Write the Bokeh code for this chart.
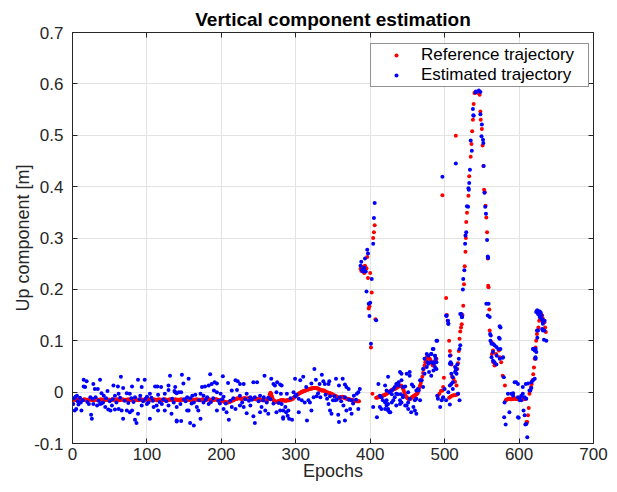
from bokeh.plotting import figure
from bokeh.models import LinearAxis, FixedTicker, Legend, LegendItem
from bokeh.embed import file_html
from bokeh.resources import INLINE

# ---------------- data (values in millimetres) ----------------
# Reference trajectory, one value per epoch for epochs 0..385
ref_flat_mm = [
    -15,-15,-14,-15,-15,-15,-16,-15,-15,-14,-15,-15,-15,-16,-15,-15,-14,-15,-15,-15,
    -15,-16,-15,-15,-14,-15,-15,-15,-16,-15,-15,-14,-15,-15,-15,-15,-16,-15,-14,-15,
    -15,-15,-15,-16,-15,-15,-14,-15,-15,-15,-15,-16,-15,-15,-14,-15,-15,-15,-15,-15,
    -14,-15,-15,-16,-15,-15,-15,-14,-15,-15,-15,-15,-16,-15,-15,-14,-15,-15,-15,-15,
    -15,-16,-15,-15,-14,-15,-15,-15,-15,-16,-15,-15,-14,-15,-15,-15,-16,-15,-15,-14,
    -15,-15,-14,-15,-15,-15,-16,-15,-15,-14,-15,-15,-15,-16,-15,-15,-14,-15,-15,-15,
    -15,-16,-15,-15,-14,-15,-15,-15,-16,-15,-15,-14,-15,-15,-15,-15,-16,-15,-14,-15,
    -15,-15,-15,-16,-15,-15,-14,-15,-15,-15,-15,-16,-15,-15,-14,-15,-15,-15,-15,-15,
    -14,-15,-15,-16,-15,-15,-15,-14,-15,-15,-15,-15,-16,-15,-15,-14,-15,-15,-15,-15,
    -15,-14,-14,-14,-15,-15,-15,-16,-16,-15,-15,-15,-14,-14,-15,-15,-16,-16,-16,-16,
    -17,-17,-18,-18,-19,-19,-20,-20,-20,-20,-19,-19,-18,-18,-17,-16,-16,-15,-14,-14,
    -13,-13,-12,-12,-12,-12,-13,-13,-13,-13,-12,-12,-12,-13,-13,-13,-12,-12,-12,-13,
    -13,-13,-13,-13,-13,-14,-14,-14,-13,-13,-14,-14,-15,-15,-15,-16,-16,-16,-16,-16,
    -16,-16,-15,-14,-10,-4,-1,-3,-8,-13,-16,-17,-18,-19,-19,-19,-18,-18,-17,-17,
    -16,-16,-16,-16,-16,-17,-17,-17,-16,-16,-16,-16,-15,-15,-14,-14,-13,-11,-10,-9,
    -7,-6,-5,-4,-3,-2,-1,0,0,1,1,2,2,3,4,4,5,5,6,6,
    7,7,7,8,8,8,8,8,8,7,7,6,5,4,4,3,3,3,3,2,
    1,0,0,-1,-1,-2,-2,-3,-3,-4,-5,-6,-7,-7,-8,-9,-10,-11,-12,-12,
    -11,-10,-9,-9,-10,-11,-12,-12,-13,-13,-13,-14,-14,-15,-15,-16,-16,-16,-17,-17,
    -17,-17,-18,-18,-18,-18,
]

# Reference trajectory after epoch 385: (epoch, mm)
ref_spike = [
    (387,240),(388,236),(389,244),(390,238),(391,244),(392,232),(393,246),(394,240),
    (395,241),(396,263),(397,222),(398,163),(399,167),(400,232),(401,87),(402,194),
    (403,-3),(404,300),(405,311),(406,325),(407,142),
]
ref_mid = [
    (408,-11),(409,-11),(410,-10),(411,-10),(412,-9),(413,-9),(414,-8),(415,-8),(416,-7),
    (417,-7),(418,-6),(419,-6),(420,-5),(421,-4),(422,-3),(423,-2),(424,-1),(425,0),
    (426,1),(427,2),(428,3),(429,4),(430,5),(431,5),(432,6),(433,6),(434,7),(435,8),
    (436,9),(437,10),(438,11),(439,12),(440,13),(441,13),(442,12),(443,10),(444,7),
    (445,3),(446,-1),(447,-5),(448,-8),(449,-10),(450,-12),(451,-13),(452,-14),(453,-14),
    (454,-13),(455,-12),(456,-10),(457,-9),(458,-8),(459,-7),(460,-6),(461,-5),(462,-4),
    (463,-3),(464,-1),(465,3),(466,8),(467,13),(468,18),(469,23),(470,30),(471,37),
    (472,45),(473,52),(474,58),(475,63),(476,68),(477,69),(478,68),(479,66),(480,65),
    (481,62),(482,58),(483,55),(484,52),(485,53),(486,56),(487,60),(488,63),(489,65),
]
ref_peak = [
    (491,-7),(493,-3),(495,2),(497,3),(498,10),(499,28),(497,383),(502,183),(503,150),
    (504,139),(506,100),(507,80),(508,72),(509,54),(510,30),(512,26),(514,20),(516,13),
    (506,-11),(508,-9),(510,-7),(512,-6),(514,-6),(516,-5),(518,-3),(517,45),(518,56),
    (519,80),(520,104),(521,118),(522,126),(523,132),(524,150),(525,168),(526,210),
    (527,245),(528,273),(528.5,300),(529,331),(530,349),(532,382),(533,420),(535,458),
    (536,483),(537,508),(538,530),(539,561),(540,582),(515,499),(541,583),(543,584),
    (545,582),(547,579),(548,546),(548.5,530),(550,512),(551,480),(552,440),(553,394),
    (554,389),(555,363),(556,340),(557,311),(558,260),(558.5,207),(559,204),(560,161),
    (560.5,120),(563,97),(565,81),(563.5,74),(565.5,58),(567,52),(569,74),(573,81),
    (574,68),(576,58),(578,32),(581,13),
]
ref_tail = [
    (582,-16),(583,-15),(584,-14),(585,-14),(586,-13),(587,-13),(588,-14),(589,-13),
    (590,-14),(591,-13),(592,-13),(593,-13),(594,-12),(595,-13),(596,-13),(597,-13),
    (598,-14),(599,-13),(600,-13),(601,-13),(602,-12),(603,-13),(604,-13),(605,-13),
    (606,-14),(607,-13),(608,-13),(609,-13),(610,-58),(611,-58),(612,-45),(613,-31),
    (614,-3),(615,3),(616,10),(617,16),(618,23),(619,35),(620,48),(621,65),(622,87),
    (623,100),(624,113),(625,120),(626,126),(627,139),(628,146),(629,152),(630,150),
    (631,149),(632,143),(633,140),(634,136),(635,126),(636,117),
]

# Estimated trajectory: (epoch, mm)
est_a = [
    (1,-23),(2,-12),(3,-36),(4,-9),(5,-33),(6,-7),(7,-18),(8,-24),(10,-11),(11,-20),(12,-36),
    (14,-16),(15,24),(15,11),(17,10),(19,21),(20,-19),(22,-23),(24,-10),(25,-44),(26,-52),
    (27,-13),(28,16),(28,-23),(30,6),(31,-10),(33,-26),(34,6),(35,-17),(37,24),(37,-23),
    (39,-2),(39,-22),(41,-20),(42,-7),(44,-29),(45,-12),(47,2),(48,-34),(50,-18),(51,-36),
    (53,-26),(54,-14),(55,13),(57,-7),(57,-34),(59,-20),(61,11),(62,-3),(62,-33),(64,-11),
    (65,30),(66,-36),(68,8),(68,-52),(70,-17),(73,-2),(73,-36),(75,-21),(77,-3),(77,-39),
    (79,-12),(80,11),(80,-36),(82,-19),(84,-10),(84,-54),(86,-60),(88,24),(88,-42),(90,-14),
    (91,-7),(93,10),(93,-26),(95,-18),(97,24),(98,-13),(100,-9),(100,-23),(102,-20),(104,-3),
    (104,-52),(106,-11),(108,-17),(109,-29),(111,11),(113,-26),(114,11),(115,-5),(115,-36),
    (117,-19),(119,10),(120,-23),(122,-14),(124,-3),(124,-36),(126,-18),(129,13),(129,4),
    (129,-26),(131,32),(133,-42),(134,-13),(136,-20),(137,2),(138,10),(140,-2),(140,-55),
]
est_b = [
    (147,34),(156,26),(185,35),(202,31),(258,32),(267,26),(149,17),(174,10),(178,11),(183,13),
    (187,16),(191,19),(194,17),(209,18),(219,23),(222,21),(225,16),(230,16),(243,19),(248,19),
    (270,16),(272,13),(275,19),(279,15),(138,0),(143,0),(146,0),(154,-10),(161,-7),(165,-5),
    (172,-3),(176,-7),(181,-10),(190,3),(194,0),(199,-3),(203,-9),(214,3),(221,4),(225,-7),
    (234,-3),(239,-10),(245,-10),(252,-7),(257,-10),(263,-11),(274,0),(280,-3),
    (140,-29),(145,-23),(154,-36),(156,-36),(160,-22),(167,-29),(169,-36),(176,-20),(183,-23),
    (194,-36),(198,-22),(203,-33),(207,-39),(210,-54),(214,-29),(219,-33),(225,-26),(230,-29),
    (234,-41),(239,-26),(243,-47),(245,-60),(252,-39),(254,-29),(259,-36),(263,-42),(270,-22),
    (274,-39),(279,-36),(283,-36),(283,-49),(140,-57),(146,-56),(158,-60),(163,-65),(172,-52),
    (150,-14),(152,-18),(158,-12),(163,-20),(170,-16),(179,-15),(186,-19),(189,-12),(196,-17),
    (201,-14),(206,-22),(212,-17),(216,-12),(228,-20),(232,-14),(237,-17),(241,-15),(250,-18),
    (256,-16),(261,-20),(266,-14),(277,-21),
]
est_c = [
    (281,13),(299,26),(306,23),(310,30),(314,10),(321,17),(325,45),(327,24),(332,16),(335,34),
    (337,21),(339,16),(344,16),(345,21),(354,26),(358,13),(363,26),(366,15),(368,10),(371,6),
    (378,-7),(384,0),(386,6),(382,-3),(288,-3),(297,0),(299,-8),(304,-13),(308,-16),(312,-20),
    (317,-16),(319,-20),(324,-10),(328,-8),(333,-10),(342,-13),(346,-8),(350,-16),(355,-15),
    (359,-10),(366,-10),(371,-15),(375,-16),(381,-15),(281,-23),(286,-29),(287,-39),(290,-36),
    (289,-46),(291,-52),(283,-52),(295,-54),(304,-39),(315,-55),(321,-36),(344,-23),(346,-36),
    (348,-42),(353,-16),(357,-44),(358,-58),(364,-26),(366,-55),(368,-36),(373,-33),(375,-42),
    (384,-33),(293,-12),(301,-5),(330,-2),(340,-5),(352,-8),(361,-18),(377,-22),
]
est_spike = [
    (388,254),(387,246),(389,238),(390,235),(391,238),(392,242),(393,260),(394,235),(395,196),
    (396,277),(397,270),(398,172),(399,148),(400,174),(401,94),(402,220),(404,289),(405,339),
    (406,368),(408,140),
]
est_d = [
    (404,-29),(409,-49),(411,16),(413,-7),(415,-10),(417,-16),(420,-20),(422,-26),(424,-33),
    (427,-39),(424,30),(413,-29),(415,-33),(429,3),(431,6),(433,10),(435,16),(438,19),(440,39),
    (442,23),(444,10),(449,36),(453,39),(433,-10),(435,-3),(440,-16),(444,-10),(449,-26),
    (451,-33),(453,-13),(458,-29),(460,-36),(462,-42),(467,-16),(465,3),(471,10),(473,65),
    (476,74),(478,71),(482,74),(485,84),(487,71),(489,100),(482,32),(485,42),(487,49),(479,39),
    (477,58),(494,-29),(496,-16),(498,-10),(500,6),(502,149),(505,133),(507,55),(509,36),
    (511,19),(514,49),(516,36),(518,-3),(520,-16),(521,152),(523,146),
    (442,36),(453,32),(438,13),(447,11),(456,15),(458,11),(420,13),(422,3),(426,0),(429,-4),
    (437,-4),(441,-4),(444,-7),(451,0),(462,3),(464,6),(467,23),(422,-16),(424,-23),
    (429,-20),(431,-16),(435,-26),(440,-23),(442,-20),(451,-20),(460,-16),(462,-13),(420,-33),
    (424,-36),(426,-39),(447,-26),(455,-39),(469,23),(473,36),(476,49),(478,55),(482,58),
    (485,55),(489,58),(471,45),(490,-7),(491,-13),(498,-11),(502,-16),(505,0),(509,16),
    (511,29),(514,39),(516,45),(507,13),(511,6),(507,-24),
]
est_e = [
    (529,311),(528,305),(527.5,289),(526.5,237),(525,220),(524.5,200),(522.5,152),(523.5,146),
    (521,91),(520,84),(519,65),(517,54),(515,43),(502.5,148),(504.5,139),(505,133),(507,71),
    (508,58),(509,55),(490,100),(484,84),(482,74),(487,71),(488,65),(485.5,58),(489,45),
    (542,585),(546,587),(548,584),(541.5,583),(538,551),(539,538),(538.5,539),(535,490),
    (536.5,470),(534,433),(533,407),(532,397),(532.5,394),(530,362),(531.5,361),(548,541),
    (550,521),(549.5,498),(551.5,491),(552,485),(552.5,440),(553.5,388),(554.5,361),
    (555.5,347),(515,445),(497,419),
    (557,296),(558,264),(558.5,261),(559,172),(560.5,146),(562,110),(561.5,100),(563,94),
    (575,126),(574,104),(567,91),(569.5,88),(572,84),(565,78),(570,71),(574,65),(578,67),
    (563,68),(567,58),(569.5,54),(556,172),(558,149),(561,113),(565,94),(574,128),(573,106),
    (575,84),(565,61),(578.5,68),(579.5,29),(580.5,-20),(580,-49),(582,-63),
]
est_f = [
    (585,-3),(592,-2),(596,19),(598.5,16),(601,-16),(603,-16),(605,-3),(607.5,-10),(598.5,-49),
    (607.5,-45),(609.8,-62),(611,-88),(594,19),(605,10),(609,16),(612,17),(587,-39),(599.5,-50),
    (606,-36),(608.4,-63),(589.5,-3),(592,-7),(598.5,-10),(601,-13),(603,-7),(609.7,-13),
    (614,3),(615,3),(616.5,8),(616.5,19),(618.7,23),(621,26),(618.7,84),(621,81),(622.3,65),
    (623.2,78),(622.3,84),(624.5,106),(625.4,120),(622,68),(619,84),(624,120),(625,159),
    (623,156),(624,159),(625.4,152),(627.6,157),(629,155),(627.6,146),(630,149),(630,143),
    (631,142),(632,136),(631,123),(632,120),(634,120),(633.4,102),(636.6,100),(634.3,139),
    (632,133),
]

y_ticks = [-0.1, 0, 0.1, 0.2, 0.3, 0.4, 0.5, 0.6, 0.7]
y_labels = ["-0.1", "0", "0.1", "0.2", "0.3", "0.4", "0.5", "0.6", "0.7"]
x_ticks = [0, 100, 200, 300, 400, 500, 600, 700]

# ---------------- assemble ----------------
ref_x = list(range(len(ref_flat_mm)))
ref_y = [v / 1000.0 for v in ref_flat_mm]
for seg in (ref_spike, ref_mid, ref_peak, ref_tail):
    for e, v in seg:
        ref_x.append(e)
        ref_y.append(v / 1000.0)

est_x, est_y = [], []
for seg in (est_a, est_b, est_c, est_spike, est_d, est_e, est_f):
    for e, v in seg:
        est_x.append(e)
        est_y.append(v / 1000.0)

FONT = "Liberation Sans"
TXT = "#262626"

p = figure(width=609, height=484, x_range=(0, 700), y_range=(-0.1, 0.7),
           output_backend="svg", toolbar_location=None,
           min_border_left=72, min_border_right=16, min_border_top=32, min_border_bottom=41)

p.title.text = "Vertical component estimation"
p.title.align = "center"
p.title.text_font = FONT
p.title.text_font_size = "19px"
p.title.text_font_style = "bold"
p.title.text_color = "#000000"
p.title.standoff = 6

r_ref = p.scatter(ref_x, ref_y, size=4, color="#ff0000", line_color=None)
r_est = p.scatter(est_x, est_y, size=4, color="#0000ff", line_color=None)

p.xaxis.ticker = FixedTicker(ticks=x_ticks)
p.yaxis.ticker = FixedTicker(ticks=y_ticks)
p.yaxis.major_label_overrides = {t: l for t, l in zip(y_ticks, y_labels)}
p.xaxis.axis_label = "Epochs"
p.yaxis.axis_label = "Up component [m]"

for ax in (p.xaxis[0], p.yaxis[0]):
    ax.major_label_text_font = FONT
    ax.major_label_text_font_size = "17px"
    ax.major_label_text_color = TXT
    ax.axis_label_text_font = FONT
    ax.axis_label_text_font_size = "18px"
    ax.axis_label_text_font_style = "normal"
    ax.axis_label_text_color = TXT
    ax.axis_line_color = TXT
    ax.major_tick_line_color = TXT
    ax.major_tick_in = 5
    ax.major_tick_out = 0
    ax.minor_tick_in = 0
    ax.minor_tick_out = 0

p.xaxis.major_label_standoff = 4
p.xaxis.axis_label_standoff = -2
p.yaxis.major_label_standoff = 9
p.yaxis.axis_label_standoff = -2

for side, ticks in (("right", y_ticks), ("above", x_ticks)):
    ax = LinearAxis(ticker=FixedTicker(ticks=ticks))
    ax.major_label_overrides = {t: "" for t in ticks}
    ax.major_label_standoff = 0
    ax.axis_line_color = TXT
    ax.major_tick_line_color = TXT
    ax.major_tick_in = 5
    ax.major_tick_out = 0
    ax.minor_tick_in = 0
    ax.minor_tick_out = 0
    p.add_layout(ax, side)

p.grid.grid_line_color = "#e3e3e3"
p.grid.grid_line_width = 1
p.outline_line_color = TXT
p.background_fill_color = "white"
p.border_fill_color = "white"

legend = Legend(items=[LegendItem(label="Reference trajectory", renderers=[r_ref]),
                       LegendItem(label="Estimated trajectory", renderers=[r_est])],
                location=(298, 356))
legend.label_text_font = FONT
legend.label_text_font_size = "17px"
legend.label_text_color = "#000000"
legend.border_line_color = TXT
legend.border_line_width = 1
legend.padding = 1
legend.spacing = -2
legend.label_height = 10
legend.glyph_height = 10
legend.glyph_width = 48
legend.label_standoff = 1
legend.label_width = 166
legend.margin = 0
p.add_layout(legend, "center")

open("out.html", "w").write(file_html(p, INLINE))
